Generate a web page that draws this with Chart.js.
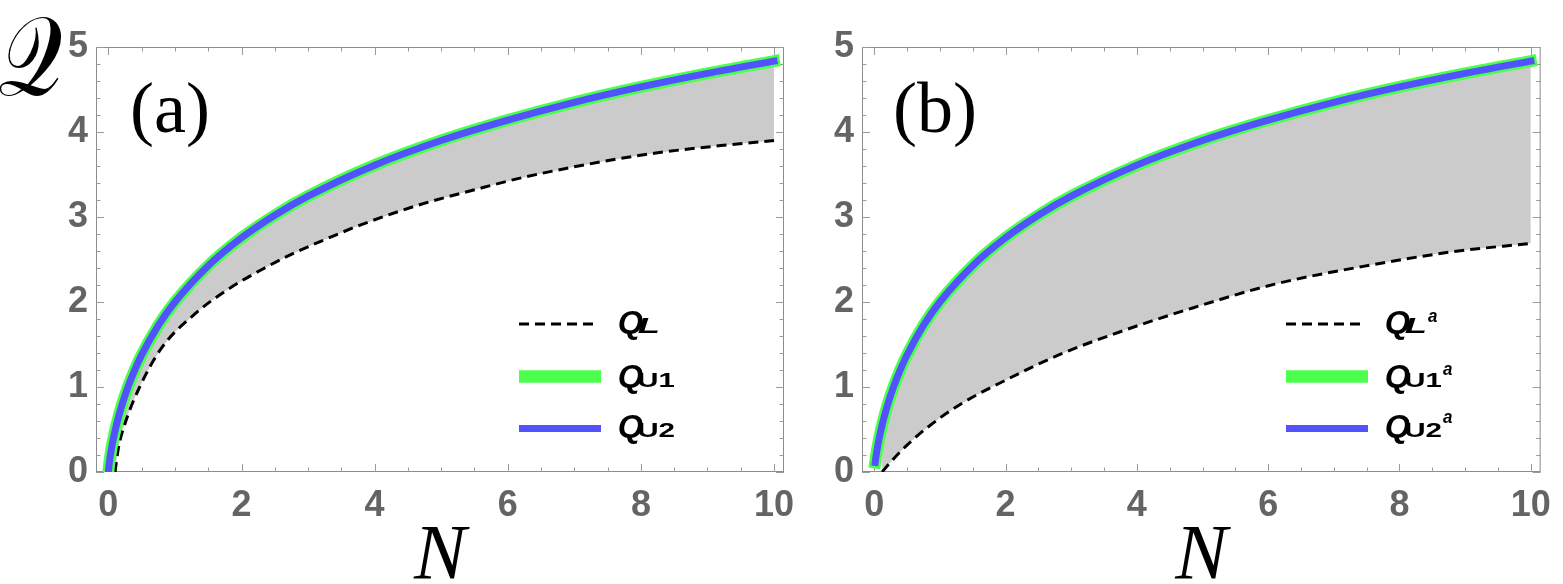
<!DOCTYPE html>
<html><head><meta charset="utf-8">
<script src="https://cdn.jsdelivr.net/npm/chart.js@4.4.1/dist/chart.umd.min.js"></script>
<style>
html,body{margin:0;padding:0;background:#fff;}
#wrap{position:relative;width:1563px;height:584px;overflow:hidden;background:#fff;}
canvas{position:absolute;top:0;}
#a{left:0;}
#b{left:790px;}
</style></head><body>
<div id="wrap"><canvas id="a" width="810" height="584"></canvas><canvas id="b" width="773" height="584"></canvas></div>
<script>
// ---- data ----
const N_U  = [0, 0.01, 0.03, 0.06, 0.1, 0.15, 0.2, 0.3, 0.4, 0.5, 0.75, 1, 1.5, 2, 2.5, 3, 4, 5, 6, 7, 8, 9, 10];
const Q_U  = [0, 0.081, 0.196, 0.333, 0.484, 0.642, 0.780, 1.013, 1.208, 1.377, 1.724, 2.000, 2.427, 2.755, 3.021, 3.245, 3.610, 3.900, 4.140, 4.349, 4.530, 4.690, 4.834];
const N_Ua = [0.015, 0.03, 0.06, 0.1, 0.15, 0.2, 0.3, 0.4, 0.5, 0.75, 1, 1.5, 2, 2.5, 3, 4, 5, 6, 7, 8, 9, 10];
const Q_Ua = [0.113, 0.196, 0.333, 0.484, 0.642, 0.780, 1.013, 1.208, 1.377, 1.724, 2.000, 2.427, 2.755, 3.021, 3.245, 3.610, 3.900, 4.140, 4.349, 4.530, 4.690, 4.834];
const N_L  = [0.1, 0.15, 0.25, 0.47, 0.8, 1.3, 1.8, 2.3, 2.8, 3.3, 3.8, 4.7, 5.5, 6.2, 7.2, 8.2, 9.2, 10];
const Q_L  = [0, 0.28, 0.57, 1.0, 1.46, 1.86, 2.15, 2.38, 2.58, 2.75, 2.91, 3.15, 3.32, 3.46, 3.62, 3.75, 3.84, 3.90];
const N_La = [0.12, 0.3, 0.52, 0.82, 1.32, 2, 2.82, 3.82, 4.85, 6.1, 7.6, 8.8, 10];
const Q_La = [0, 0.16, 0.33, 0.53, 0.80, 1.08, 1.38, 1.67, 1.93, 2.21, 2.44, 2.59, 2.69];
const xTicks = [0, 2, 4, 6, 8, 10];
const yTicks = [0, 1, 2, 3, 4, 5];
const xMinor = [0,0.5,1,1.5,2,2.5,3,3.5,4,4.5,5,5.5,6,6.5,7,7.5,8,8.5,9,9.5,10];
const yMinor = [0,0.2,0.4,0.6,0.8,1,1.2,1.4,1.6,1.8,2,2.2,2.4,2.6,2.8,3,3.2,3.4,3.6,3.8,4,4.2,4.4,4.6,4.8,5];

const GREEN = '#4cff4c', BLUE = '#5252ff', FILL = '#cbcbcb', TICKC = '#646464', FRAME = '#8c8c8c';
const pts = (xs, ys) => xs.map((x, i) => ({x, y: ys[i]}));

const framePlugin = {
  id: 'frame',
  beforeDatasetsDraw(chart) {
    const {ctx, chartArea: a, scales: {x, y}} = chart;
    ctx.save();
    ctx.strokeStyle = FRAME; ctx.lineWidth = 1;
    ctx.strokeRect(a.left + 0.5, a.top + 0.5, a.right - a.left - 1, a.bottom - a.top - 1);
    ctx.strokeStyle = '#9a9a9a';
    ctx.beginPath();
    xMinor.forEach(v => {
      const p = Math.round(x.getPixelForValue(v)) + 0.5;
      const L = (v % 2 === 0) ? 8 : 4.5;
      ctx.moveTo(p, a.bottom); ctx.lineTo(p, a.bottom - L);
      ctx.moveTo(p, a.top); ctx.lineTo(p, a.top + L);
    });
    yMinor.forEach(v => {
      const p = Math.round(y.getPixelForValue(v)) + 0.5;
      const L = (Math.abs(v - Math.round(v)) < 1e-6) ? 8 : 4.5;
      ctx.moveTo(a.left, p); ctx.lineTo(a.left + L, p);
      ctx.moveTo(a.right, p); ctx.lineTo(a.right - L, p);
    });
    ctx.stroke();
    ctx.restore();
  }
};

// draw a text piece so that its glyph box has the given left edge, cap/x ascent and width
function glyphFit(ctx, s, style, left, baseline, asc, width) {
  ctx.font = style + ' 100px "Liberation Sans", Arial, sans-serif';
  const m = ctx.measureText(s);
  const size = 100 * asc / m.actualBoundingBoxAscent;
  const w = (m.actualBoundingBoxLeft + m.actualBoundingBoxRight) * size / 100;
  const sx = width ? width / w : 1;
  ctx.save();
  ctx.font = style + ' ' + size.toFixed(2) + 'px "Liberation Sans", Arial, sans-serif';
  ctx.textAlign = 'left';
  ctx.textBaseline = 'alphabetic';
  ctx.translate(left, baseline);
  ctx.scale(sx, 1);
  ctx.fillText(s, m.actualBoundingBoxLeft * size / 100, 0);
  ctx.restore();
}

function makeDecorPlugin(x0, label, labelX, withQ, sup) {
  return {
    id: 'decor',
    afterDraw(chart) {
      const ctx = chart.ctx;
      ctx.save();
      ctx.fillStyle = '#000';
      ctx.textBaseline = 'alphabetic';
      ctx.textAlign = 'left';
      ctx.font = '72px "Liberation Serif"';
      ctx.fillText(label, labelX, 132);
      if (withQ) {
        ctx.save();
        ctx.font = '112px "DejaVu Serif", "DejaVu Sans", serif';
        ctx.translate(-2, 95);
        ctx.scale(0.8, 1);
        ctx.fillText('\u{1D4AC}', 0, 0);
        ctx.restore();
      }
      // legend samples
      ctx.strokeStyle = '#000'; ctx.lineWidth = 3; ctx.setLineDash([10, 6]);
      ctx.beginPath(); ctx.moveTo(x0, 324); ctx.lineTo(x0 + 80, 324); ctx.stroke();
      ctx.setLineDash([]);
      ctx.strokeStyle = GREEN; ctx.lineWidth = 12.5;
      ctx.beginPath(); ctx.moveTo(x0, 376.5); ctx.lineTo(x0 + 82, 376.5); ctx.stroke();
      ctx.strokeStyle = BLUE; ctx.lineWidth = 7;
      ctx.beginPath(); ctx.moveTo(x0, 428.5); ctx.lineTo(x0 + 82, 428.5); ctx.stroke();
      // legend text
      const qx = x0 + 100;
      const base = [333, 387, 437];
      const subs = ['L', 'U1', 'U2'];
      base.forEach((b, i) => {
        glyphFit(ctx, 'Q', 'italic bold', qx, b, 21.5, 24);
        if (i === 0) glyphFit(ctx, 'L', 'italic bold', qx + 19, b, 15, 20);
        else glyphFit(ctx, subs[i], 'bold', qx + 20, b, 13.5, 35);
        if (sup) {
          const sxp = i === 0 ? qx + 42 : qx + 57;
          glyphFit(ctx, 'a', 'italic bold', sxp, [322, 375, 423][i], 10, 9);
        }
      });
      ctx.restore();
    }
  };
}

function makeChart(id, nu, qu, nl, ql, yWidth, padRight, plugins) {
  return new Chart(document.getElementById(id), {
    type: 'line',
    data: {
      datasets: [
        {data: pts(nu, qu), borderColor: BLUE, borderWidth: 7, borderCapStyle: 'square', pointRadius: 0, fill: false, cubicInterpolationMode: 'monotone', clip: 0},
        {data: pts(nu, qu), borderColor: GREEN, borderWidth: 12, borderCapStyle: 'square', pointRadius: 0, fill: {target: 2}, backgroundColor: FILL, cubicInterpolationMode: 'monotone', clip: 0},
        {data: pts(nl, ql), borderColor: '#000', borderWidth: 3, borderDash: [10, 6], pointRadius: 0, fill: false, cubicInterpolationMode: 'monotone', clip: 0}
      ]
    },
    options: {
      responsive: false, animation: false, devicePixelRatio: 1,
      layout: {padding: {top: 47, right: padRight, bottom: 0, left: 0}},
      plugins: {legend: {display: false}, tooltip: {enabled: false}, filler: {drawTime: 'beforeDatasetsDraw'}},
      scales: {
        x: {
          type: 'linear', min: -0.186, max: 10.15,
          afterBuildTicks: s => { s.ticks = xTicks.map(v => ({value: v})); },
          grid: {display: false, drawTicks: false}, border: {display: false},
          ticks: {color: TICKC, font: {family: '"Liberation Sans"', weight: 'bold', size: 36}, padding: 12, maxRotation: 0, autoSkip: false},
          title: {display: true, text: 'N', color: '#000', font: {family: '"Liberation Serif"', style: 'italic', size: 78, lineHeight: 0.69}, padding: 0},
          afterFit: s => { s.height = 112; }
        },
        y: {
          type: 'linear', min: 0, max: 5,
          afterBuildTicks: s => { s.ticks = yTicks.map(v => ({value: v})); },
          grid: {display: false, drawTicks: false}, border: {display: false},
          ticks: {color: TICKC, font: {family: '"Liberation Sans"', weight: 'bold', size: 36}, padding: 8},
          afterFit: s => { s.width = yWidth; }
        }
      }
    },
    plugins: [framePlugin].concat(plugins)
  });
}

makeChart('a', N_U, Q_U, N_L, Q_L, 96, 26, [makeDecorPlugin(519, '(a)', 130, true, false)]);
makeChart('b', N_Ua, Q_Ua, N_La, Q_La, 72, 12, [makeDecorPlugin(1286 - 790, '(b)', 103, false, true)]);
</script>
</body></html>
